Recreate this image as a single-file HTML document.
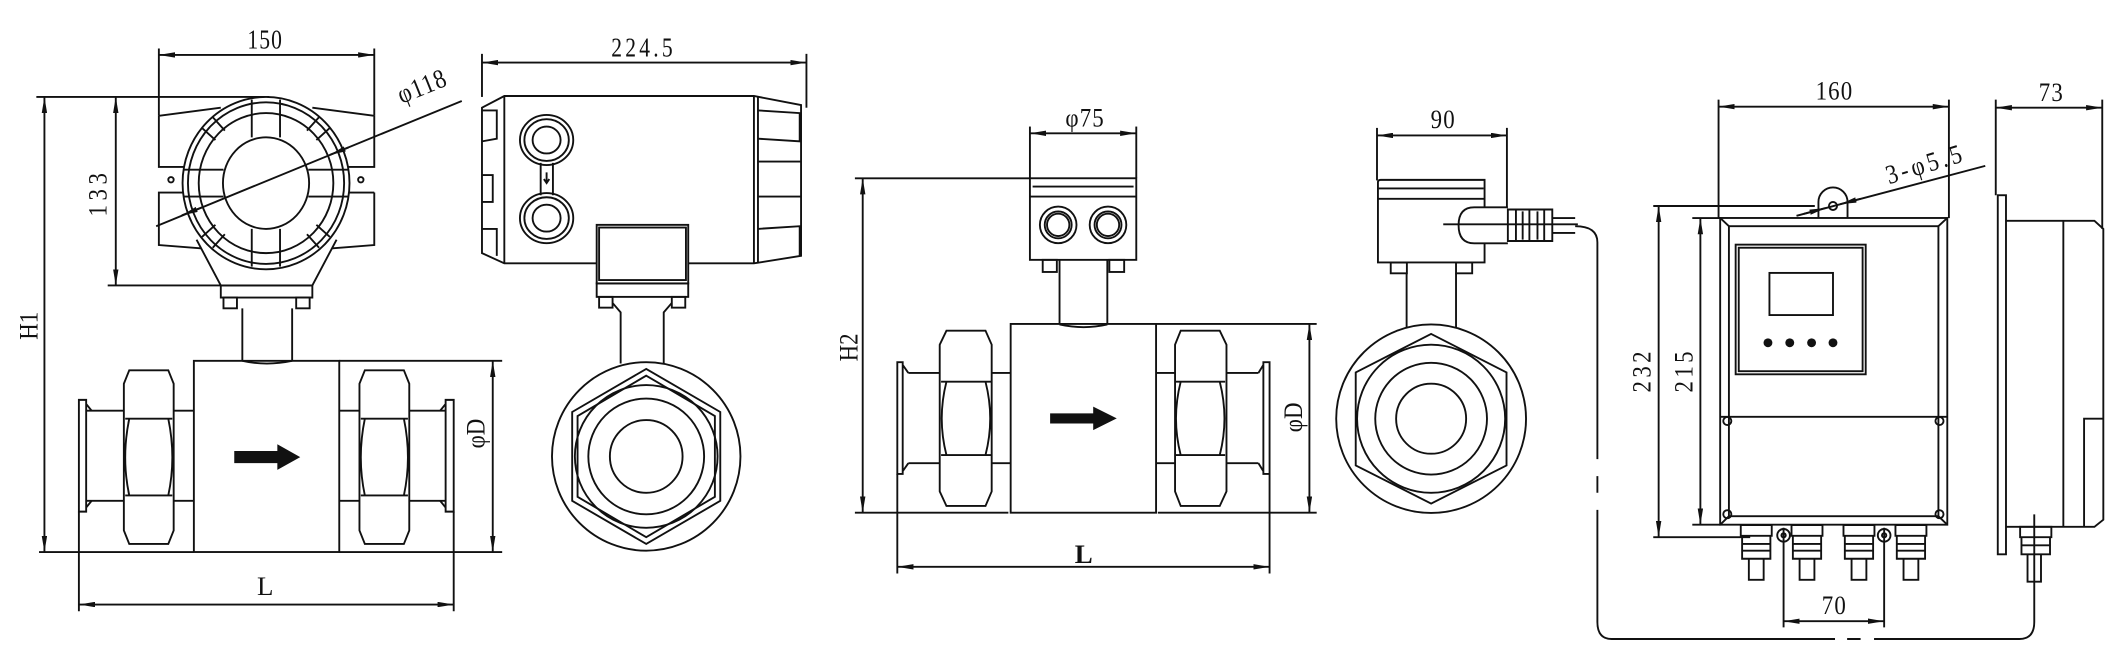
<!DOCTYPE html>
<html><head><meta charset="utf-8"><style>
html,body{margin:0;padding:0;background:#fff}
svg{display:block}
text{font-family:"Liberation Serif",serif;font-size:20px;fill:#111}
</style></head><body>
<svg width="2111" height="660" viewBox="0 0 1568 490.2" preserveAspectRatio="none" xmlns="http://www.w3.org/2000/svg">
<defs>
<marker id="a" viewBox="0 0 12 4" refX="12" refY="2" markerWidth="12" markerHeight="4" markerUnits="userSpaceOnUse" orient="auto-start-reverse"><path d="M0,0L12,2L0,4z" fill="#111"/></marker>
</defs>
<g fill="none" stroke="#111" stroke-width="1.4">
<!-- ============ VIEW 1 ============ -->
<line x1="118" y1="40.8" x2="278" y2="40.8" marker-start="url(#a)" marker-end="url(#a)"/>
<line x1="118" y1="36" x2="118" y2="86"/><line x1="278" y1="36" x2="278" y2="86"/>
<line x1="33" y1="72" x2="33" y2="410" marker-start="url(#a)" marker-end="url(#a)"/>
<line x1="27" y1="72" x2="200" y2="72"/>
<line x1="86" y1="72" x2="86" y2="212" marker-start="url(#a)" marker-end="url(#a)"/>
<line x1="80" y1="212" x2="164" y2="212"/>
<path d="M118,86 L164,80 M118,86 L118,124 L140,124 M118,143 L140,143 L118,143 L118,182 L156,185"/>
<path d="M278,86 L232,80 M278,86 L278,124 L256,124 M278,143 L256,143 M278,143 L278,182 L240,185"/>
<circle cx="127" cy="133.5" r="2"/><circle cx="268" cy="133.5" r="2"/>
<path d="M146,178 L164,212 L232,212 L250,178" fill="#fff"/>
<ellipse cx="197.6" cy="136" rx="62" ry="64" fill="#fff"/>
<ellipse cx="197.6" cy="136" rx="58" ry="60"/>
<ellipse cx="197.6" cy="136" rx="50" ry="52"/>
<ellipse cx="197.6" cy="136" rx="32" ry="34" fill="#fff"/>
<path d="M187,74 L187,102 M208,74 L208,102 M187,170 L187,198 M208,170 L208,198 M136,126 L166,126 M136,146 L166,146 M229,126 L259,126 M229,146 L259,146"/>
<path d="M150,95 L160,104 M158,87 L167,97 M245,95 L235,104 M237,87 L228,97 M150,176 L160,167 M158,184 L167,174 M245,176 L235,167 M237,184 L228,174"/>
<line x1="116" y1="168" x2="343" y2="75"/>
<line x1="150" y1="154" x2="135" y2="160" marker-end="url(#a)"/>
<line x1="245" y1="115" x2="259" y2="109.5" marker-start="url(#a)"/>
<rect x="164" y="212" width="68" height="9"/>
<rect x="166" y="221" width="10" height="8"/><rect x="220" y="221" width="10" height="8"/>
<path d="M180,229 L180,268 M217,229 L217,268 M180,268 Q198,272 217,268"/>
<rect x="144" y="268" width="108" height="142"/>
<line x1="29" y1="410" x2="144" y2="410"/><line x1="252" y1="410" x2="373" y2="410"/>
<line x1="252" y1="268" x2="373" y2="268"/>
<line x1="366" y1="268" x2="366" y2="410" marker-start="url(#a)" marker-end="url(#a)"/>
<path d="M96,275 L125,275 L129,285 L129,394 L125,404 L96,404 L92,394 L92,285 Z M93,311 L128,311 M93,368 L128,368 M96,311 Q90,340 96,368 M125,311 Q131,340 125,368"/>
<path d="M271,275 L300,275 L304,285 L304,394 L300,404 L271,404 L267,394 L267,285 Z M268,311 L303,311 M268,368 L303,368 M271,311 Q265,340 271,368 M300,311 Q306,340 300,368"/>
<path d="M129,305 L144,305 M129,372 L144,372 M252,305 L267,305 M252,372 L267,372"/>
<path d="M64,305 L92,305 M64,372 L92,372 M304,305 L331,305 M304,372 L331,372"/>
<path d="M58.6,297 L64,297 L64,380 L58.6,380 Z M64,300 L68,305 M64,377 L68,372 M331,297 L337,297 L337,380 L331,380 Z M331,300 L327,305 M331,377 L327,372"/>
<line x1="58.6" y1="380" x2="58.6" y2="454"/><line x1="337" y1="380" x2="337" y2="454"/>
<line x1="58.6" y1="449" x2="337" y2="449" marker-start="url(#a)" marker-end="url(#a)"/>

<!-- ============ VIEW 2 ============ -->
<line x1="358" y1="46.5" x2="599" y2="46.5" marker-start="url(#a)" marker-end="url(#a)"/>
<line x1="358" y1="40" x2="358" y2="72"/><line x1="599" y1="40" x2="599" y2="80"/>
<path d="M374.6,71.3 L560,71.3 L595,78 L595,190 L560,195.6 L374.6,195.6 L358,188 L358,80 Z"/>
<path d="M374.6,71.3 L374.6,195.6 M560,71.3 L560,195.6 M563,71.5 L563,195.5"/>
<path d="M358,82 L369,82 L369,103 L358,105 M358,170 L369,170 L369,190 M358,130 L366,130 L366,150 L358,150"/>
<path d="M563,82 L594,84 L594,105 L563,103 M563,120 L595,120 M563,146 L595,146 M563,170 L594,168 L594,190"/>
<ellipse cx="406" cy="104" rx="19.8" ry="18.6"/><ellipse cx="406" cy="104" rx="16.5" ry="15.5"/><ellipse cx="406" cy="104" rx="10.4" ry="10"/>
<ellipse cx="406" cy="162" rx="19.8" ry="18.6"/><ellipse cx="406" cy="162" rx="16.5" ry="15.5"/><ellipse cx="406" cy="162" rx="10.4" ry="10"/>
<path d="M401.6,121 L401.6,145 M410.7,121 L410.7,145 M406,128 L406,136 M404,133 L406,136 L408,133"/>
<rect x="443.2" y="167" width="68" height="43.5" fill="#fff"/>
<rect x="445" y="169" width="64.5" height="39"/>
<rect x="443.2" y="210.5" width="68" height="10"/>
<rect x="445" y="220.5" width="10" height="8"/><rect x="499" y="220.5" width="10" height="8"/>
<path d="M455,225 L461,232 L461,270 M499,225 L493,232 L493,270"/>
<circle cx="480" cy="339" r="70" fill="#fff"/>
<polygon points="480,274 535,306 535,372 480,404 425,372 425,306"/>
<polygon points="480,279 531,309 531,369 480,399 429,369 429,309"/>
<circle cx="480" cy="339" r="53"/><circle cx="480" cy="339" r="43"/><circle cx="480" cy="339" r="27"/>

<!-- ============ VIEW 3 ============ -->
<line x1="765" y1="99" x2="844" y2="99" marker-start="url(#a)" marker-end="url(#a)"/>
<line x1="765" y1="94" x2="765" y2="132"/><line x1="844" y1="94" x2="844" y2="132"/>
<rect x="765" y="132.4" width="79" height="60.6"/>
<line x1="767" y1="138.6" x2="842" y2="138.6"/><line x1="765" y1="146" x2="844" y2="146"/>
<circle cx="786" cy="167" r="13.6"/><circle cx="786" cy="167" r="10"/><circle cx="786" cy="167" r="8.3"/>
<circle cx="823" cy="167" r="13.6"/><circle cx="823" cy="167" r="10"/><circle cx="823" cy="167" r="8.3"/>
<rect x="774.5" y="193" width="10.5" height="9"/><rect x="824" y="193" width="11" height="9"/>
<path d="M787,193 L787,241 M822.5,193 L822.5,241 M787,241 Q805,245 822.5,241"/>
<rect x="750.7" y="240.6" width="108" height="140.2"/>
<path d="M703,245.6 L732,245.6 L736.6,256 L736.6,365 L732,375.8 L703,375.8 L698,365 L698,256 Z M699,283.5 L736,283.5 M699,338 L736,338 M703,283.5 Q696,311 703,338 M732,283.5 Q739,311 732,338"/>
<path d="M877,245.6 L906,245.6 L911,256 L911,365 L906,375.8 L877,375.8 L872.8,365 L872.8,256 Z M873,283.5 L910,283.5 M873,338 L910,338 M877,283.5 Q870,311 877,338 M906,283.5 Q913,311 906,338"/>
<path d="M736.6,277 L750.7,277 M736.6,344 L750.7,344 M858.7,277 L872.8,277 M858.7,344 L872.8,344"/>
<path d="M674.7,277 L698,277 M674.7,344 L698,344 M911,277 L934.7,277 M911,344 L934.7,344"/>
<path d="M666.5,269 L670.5,269 L670.5,352 L666.5,352 Z M670.5,271 L674.7,277 M670.5,350 L674.7,344 M938.4,269 L943,269 L943,352 L938.4,352 Z M938.4,271 L934.7,277 M938.4,350 L934.7,344"/>
<line x1="640.8" y1="132.4" x2="640.8" y2="380.8" marker-start="url(#a)" marker-end="url(#a)"/>
<line x1="635" y1="132.4" x2="765" y2="132.4"/>
<line x1="635" y1="380.8" x2="749" y2="380.8"/><line x1="860" y1="380.8" x2="978" y2="380.8"/>
<line x1="859" y1="240.6" x2="978" y2="240.6"/>
<line x1="972.6" y1="240.6" x2="972.6" y2="380.8" marker-start="url(#a)" marker-end="url(#a)"/>
<line x1="666.5" y1="352" x2="666.5" y2="426"/><line x1="943" y1="352" x2="943" y2="426"/>
<line x1="666.5" y1="421" x2="943" y2="421" marker-start="url(#a)" marker-end="url(#a)"/>

<!-- ============ VIEW 4 ============ -->
<line x1="1022.8" y1="100.6" x2="1119.3" y2="100.6" marker-start="url(#a)" marker-end="url(#a)"/>
<line x1="1022.8" y1="95" x2="1022.8" y2="134"/><line x1="1119.3" y1="95" x2="1119.3" y2="155"/>
<path d="M1023.5,194.9 L1023.5,135.5 Q1023.5,133.6 1025.5,133.6 L1102.7,133.6 L1102.7,194.9 Z"/>
<line x1="1024" y1="140" x2="1102" y2="140"/><line x1="1023.5" y1="147.7" x2="1102.7" y2="147.7"/>
<path d="M1120,154 L1095,154 Q1083.4,154 1083.4,167.3 Q1083.4,180.7 1095,180.7 L1120,180.7" fill="#fff"/>
<path d="M1120,155.6 L1153,155.6 L1153,179 L1120,179 Z M1126,155.6 L1126,179 M1131,157 L1131,178 M1136,155.6 L1136,179 M1142,157 L1142,178 M1147,155.6 L1147,179"/>
<path d="M1153,162 L1170,162 M1153,173 L1170,173"/>
<line x1="1072" y1="166.6" x2="1172" y2="166.6"/>
<rect x="1033" y="195" width="12" height="8"/><rect x="1081.5" y="195" width="12" height="8"/>
<path d="M1044.8,203 L1044.8,243.6 M1081.5,203 L1081.5,243.6"/>
<ellipse cx="1063" cy="311" rx="70.5" ry="70" fill="#fff"/>
<polygon points="1063,248 1119,276.6 1119,345.7 1063,374 1007,345.7 1007,276.6"/>
<circle cx="1063" cy="311" r="55"/><circle cx="1063" cy="311" r="41.5"/><circle cx="1063" cy="311" r="26"/>
<path d="M1170,168 Q1186.5,168 1186.5,180 L1186.5,341 M1186.5,353.6 L1186.5,366 M1186.5,378.7 L1186.5,462 Q1186.5,474.6 1197,474.6 L1363,474.6 M1372,474.6 L1382,474.6 M1392,474.6 L1500,474.6 Q1511,474.6 1511,462 L1511,382"/>

<!-- ============ VIEW 5 ============ -->
<line x1="1276.5" y1="79.2" x2="1447.6" y2="79.2" marker-start="url(#a)" marker-end="url(#a)"/>
<line x1="1276.5" y1="74" x2="1276.5" y2="162"/><line x1="1447.6" y1="74" x2="1447.6" y2="162"/>
<path d="M1350.7,161.9 L1350.7,150 A10.8,10.8 0 0 1 1372.3,150 L1372.3,161.9"/>
<circle cx="1361.5" cy="153" r="3"/>
<rect x="1277.7" y="161.9" width="168.7" height="227.8"/>
<rect x="1284.2" y="168" width="155.6" height="215.4"/>
<path d="M1277.7,161.9 L1284.2,168 M1446.4,161.9 L1439.8,168 M1277.7,389.7 L1284.2,383.4 M1446.4,389.7 L1439.8,383.4"/>
<line x1="1277.7" y1="309.6" x2="1446.4" y2="309.6"/>
<rect x="1289.2" y="181.7" width="96.6" height="96.3"/>
<rect x="1291.5" y="184" width="92" height="91.7"/>
<rect x="1314.3" y="202.7" width="47.2" height="31.3"/>
<circle cx="1283" cy="312.7" r="3"/><circle cx="1440.6" cy="312.7" r="3"/><circle cx="1283" cy="381.9" r="3"/><circle cx="1440.6" cy="381.9" r="3"/>
<line x1="1334.4" y1="160.3" x2="1474.6" y2="123.2"/>
<line x1="1340" y1="158.8" x2="1356" y2="154.5" marker-end="url(#a)"/>
<line x1="1382" y1="147.6" x2="1367" y2="151.6" marker-end="url(#a)"/>
<line x1="1232" y1="153" x2="1232" y2="399" marker-start="url(#a)" marker-end="url(#a)"/>
<line x1="1228" y1="153" x2="1348" y2="153"/><line x1="1228" y1="399" x2="1300" y2="399"/>
<line x1="1263" y1="162" x2="1263" y2="389.7" marker-start="url(#a)" marker-end="url(#a)"/>
<line x1="1257" y1="162" x2="1278" y2="162"/><line x1="1257" y1="389.7" x2="1278" y2="389.7"/>
<g>
<path d="M1293,390 L1316,390 L1316,398 L1293,398 Z M1294,398 L1315,398 L1315,415 L1294,415 Z M1294,404 L1315,404 M1294,409 L1315,409 M1299,415 L1299,430.6 L1310,430.6 L1310,415"/>
<path d="M1330.7,390 L1353.7,390 L1353.7,398 L1330.7,398 Z M1331.7,398 L1352.7,398 L1352.7,415 L1331.7,415 Z M1331.7,404 L1352.7,404 M1331.7,409 L1352.7,409 M1336.7,415 L1336.7,430.6 L1347.7,430.6 L1347.7,415"/>
<path d="M1369.3,390 L1392.3,390 L1392.3,398 L1369.3,398 Z M1370.3,398 L1391.3,398 L1391.3,415 L1370.3,415 Z M1370.3,404 L1391.3,404 M1370.3,409 L1391.3,409 M1375.3,415 L1375.3,430.6 L1386.3,430.6 L1386.3,415"/>
<path d="M1407.9,390 L1430.9,390 L1430.9,398 L1407.9,398 Z M1408.9,398 L1429.9,398 L1429.9,415 L1408.9,415 Z M1408.9,404 L1429.9,404 M1408.9,409 L1429.9,409 M1413.9,415 L1413.9,430.6 L1424.9,430.6 L1424.9,415"/>
</g>
<circle cx="1324.8" cy="397.6" r="4.7"/><circle cx="1324.8" cy="397.6" r="1.6"/>
<circle cx="1399.5" cy="397.6" r="4.7"/><circle cx="1399.5" cy="397.6" r="1.6"/>
<line x1="1324.8" y1="392" x2="1324.8" y2="466"/><line x1="1399.5" y1="392" x2="1399.5" y2="466"/>
<line x1="1324.8" y1="461.4" x2="1399.5" y2="461.4" marker-start="url(#a)" marker-end="url(#a)"/>
<line x1="1482.4" y1="80" x2="1561.5" y2="80" marker-start="url(#a)" marker-end="url(#a)"/>
<line x1="1482.4" y1="74" x2="1482.4" y2="145"/><line x1="1561.5" y1="74" x2="1561.5" y2="170"/>
<rect x="1483.9" y="145" width="6.1" height="266.7"/>
<path d="M1490,164 L1555.7,164 L1562.3,170 L1562.3,386 L1555.7,391.3 L1490,391.3"/>
<line x1="1532.6" y1="164" x2="1532.6" y2="391.3"/>
<path d="M1548,391 L1548,311 L1562.3,311"/>
<path d="M1500.5,391.3 L1523.7,391.3 L1523.7,399 L1500.5,399 Z M1501.5,399 L1522.7,399 L1522.7,411.7 L1501.5,411.7 Z M1501.5,405 L1522.7,405 M1506,411.7 L1506,432 L1516,432 L1516,411.7"/>
</g>
<path d="M174,335 L206,335 L206,330 L223,339.5 L206,349 L206,344 L174,344 Z" fill="#111"/>
<path d="M780,307 L812,307 L812,302 L829.5,310.7 L812,319.5 L812,314.5 L780,314.5 Z" fill="#111"/>
<g fill="#111">
<circle cx="1313.2" cy="254.6" r="3.3"/><circle cx="1329.4" cy="254.6" r="3.3"/><circle cx="1345.6" cy="254.6" r="3.3"/><circle cx="1361.5" cy="254.6" r="3.3"/>
</g>
<g>
<text x="197" y="36" text-anchor="middle" letter-spacing="1" transform="translate(197 0) scale(0.8 1) translate(-197 0)">150</text>
<text x="478" y="42" text-anchor="middle" letter-spacing="3" transform="translate(478 0) scale(0.8 1) translate(-478 0)">224.5</text>
<text transform="translate(316 70) rotate(-22) scale(0.85 1)" text-anchor="middle" letter-spacing="1">φ118</text>
<text transform="translate(79 143) rotate(-90) scale(0.85 1)" text-anchor="middle" letter-spacing="4">133</text>
<text transform="translate(28 242) rotate(-90) scale(0.85 1)" text-anchor="middle">H1</text>
<text transform="translate(360 322) rotate(-90) scale(0.85 1)" text-anchor="middle">φD</text>
<text x="197" y="442" text-anchor="middle">L</text>
<text x="806" y="94" text-anchor="middle" letter-spacing="1" transform="translate(806 0) scale(0.85 1) translate(-806 0)">φ75</text>
<text transform="translate(637 258) rotate(-90) scale(0.85 1)" text-anchor="middle">H2</text>
<text transform="translate(967 310) rotate(-90) scale(0.85 1)" text-anchor="middle">φD</text>
<text x="805" y="418" text-anchor="middle" font-weight="bold">L</text>
<text x="1072" y="95" text-anchor="middle" letter-spacing="1" transform="translate(1072 0) scale(0.85 1) translate(-1072 0)">90</text>
<text x="1362.6" y="74" text-anchor="middle" letter-spacing="1" transform="translate(1362.6 0) scale(0.85 1) translate(-1362.6 0)">160</text>
<text x="1523.7" y="75" text-anchor="middle" letter-spacing="1" transform="translate(1523.7 0) scale(0.85 1) translate(-1523.7 0)">73</text>
<text transform="translate(1432 128) rotate(-17) scale(0.85 1)" text-anchor="middle" letter-spacing="3">3-φ5.5</text>
<text transform="translate(1226 275) rotate(-90) scale(0.85 1)" text-anchor="middle" letter-spacing="3">232</text>
<text transform="translate(1257 275) rotate(-90) scale(0.85 1)" text-anchor="middle" letter-spacing="3">215</text>
<text x="1362.5" y="456" text-anchor="middle" letter-spacing="1" transform="translate(1362.5 0) scale(0.85 1) translate(-1362.5 0)">70</text>
</g>
</svg>
</body></html>
